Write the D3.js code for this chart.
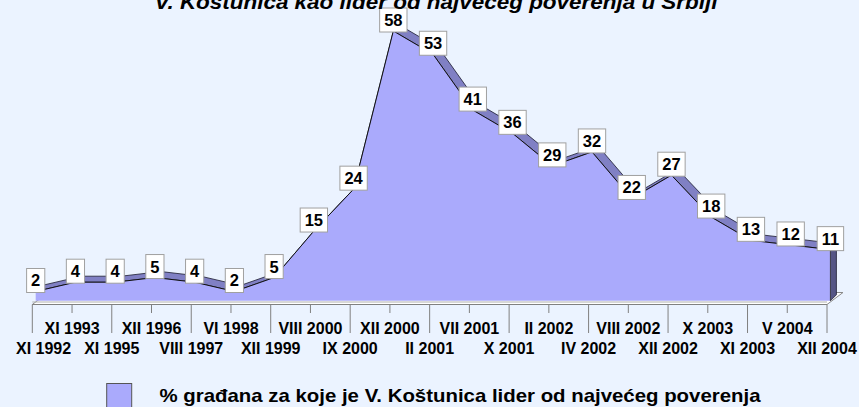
<!DOCTYPE html>
<html>
<head>
<meta charset="utf-8">
<script src="https://cdn.jsdelivr.net/npm/d3@7"></script>
<style>
  html, body { margin: 0; padding: 0; background: #ebf3ff; }
  svg { display: block; font-family: Arial, "Liberation Sans", sans-serif; }
</style>
</head>
<body>
<svg id="chart"></svg>
<script>
// Data
const categories = ["XI 1992", "XI 1993", "XI 1995", "XII 1996", "VIII 1997", "VI 1998", "XII 1999",
    "VIII 2000", "IX 2000", "XII 2000", "II 2001", "VII 2001", "X 2001", "II 2002", "IV 2002",
    "VIII 2002", "XII 2002", "X 2003", "XI 2003", "V 2004", "XII 2004"];
const values = [2, 4, 4, 5, 4, 2, 5, 15, 24, 58, 53, 41, 36, 29, 32, 22, 27, 18, 13, 12, 11];
const title = "V. Koštunica kao lider od najvećeg poverenja u Srbiji";
const seriesName = "% građana za koje je V. Koštunica lider od najvećeg poverenja";

const width = 859, height = 407;

const svg = d3.select("#chart")
    .attr("width", width)
    .attr("height", height);

svg.append("rect")
    .attr("width", width)
    .attr("height", height)
    .attr("fill", "#ebf3ff");

// scales (floor front edge)
const x = d3.scalePoint().domain(categories).range([32.3, 827]);
const y = d3.scaleLinear().domain([0, 60]).range([300.8, 21.7]);

// 3d offsets
const front = { dx: 3.4 };          // series front relative to axis ticks
const depth = { dx: 6, dy: -6 };    // series thickness
const floorDepth = { dx: 16, dy: -12 };
const floorY = 304.5;

// floor
const fx0 = x(categories[0]), fx1 = x(categories[categories.length - 1]);
svg.append("path")
    .attr("d", `M${fx0},${floorY}L${fx1},${floorY}L${fx1 + floorDepth.dx},${floorY + floorDepth.dy}L${fx0 + floorDepth.dx},${floorY + floorDepth.dy}Z`)
    .attr("fill", "#ffffff")
    .attr("stroke", "#8a8a8a")
    .attr("stroke-width", 1);
svg.append("line")
    .attr("x1", fx0).attr("x2", fx1)
    .attr("y1", floorY - 2.5).attr("y2", floorY - 2.5)
    .attr("stroke", "#b0b0b0")
    .attr("stroke-width", 1);

// points
const pts = categories.map((c, i) => ({
    c: c,
    v: values[i],
    x: x(c) + front.dx,
    y: y(values[i])
}));
const base = y(0);

// top strips
const strips = svg.append("g");
for (let i = 0; i < pts.length - 1; i++) {
    const a = pts[i], b = pts[i + 1];
    strips.append("path")
        .attr("d", `M${a.x},${a.y}L${b.x},${b.y}L${b.x + depth.dx},${b.y + depth.dy}L${a.x + depth.dx},${a.y + depth.dy}Z`)
        .attr("fill", "#8080c4")
        .attr("stroke", "#1a1a2e")
        .attr("stroke-width", 0.8)
        .attr("stroke-linejoin", "round");
}

// right side face
const last = pts[pts.length - 1];
svg.append("path")
    .attr("d", `M${last.x},${last.y}L${last.x + depth.dx},${last.y + depth.dy}L${last.x + depth.dx},${base + depth.dy}L${last.x},${base}Z`)
    .attr("fill", "#555585")
    .attr("stroke", "#1a1a2e")
    .attr("stroke-width", 0.8);

// front face
const area = d3.area()
    .x(d => d.x)
    .y0(base)
    .y1(d => d.y);
svg.append("path")
    .attr("d", area(pts))
    .attr("fill", "#aaaafc")
    .attr("stroke", "none");
svg.append("path")
    .attr("d", d3.line().x(d => d.x).y(d => d.y)(pts))
    .attr("fill", "none")
    .attr("stroke", "#111")
    .attr("stroke-width", 1);
svg.append("line")
    .attr("x1", last.x).attr("x2", last.x)
    .attr("y1", last.y).attr("y2", base)
    .attr("stroke", "#333").attr("stroke-width", 0.8);

// floor front axis line and ticks
svg.append("line")
    .attr("x1", fx0).attr("x2", fx1)
    .attr("y1", floorY).attr("y2", floorY)
    .attr("stroke", "#808080")
    .attr("stroke-width", 1);
svg.append("g")
    .selectAll("line")
    .data(categories)
    .join("line")
    .attr("x1", d => x(d)).attr("x2", d => x(d))
    .attr("y1", floorY)
    .attr("y2", (d, i) => i % 2 === 0 ? 333 : 313)
    .attr("stroke", "#808080")
    .attr("stroke-width", 1);

// category labels (staggered)
const catLabels = svg.append("g")
    .selectAll("text")
    .data(categories)
    .join("text")
    .attr("x", d => x(d))
    .attr("y", (d, i) => i % 2 === 0 ? 354.3 : 334.3)
    .attr("text-anchor", "middle")
    .attr("font-weight", "bold")
    .attr("font-size", "16px")
    .attr("fill", "#000")
    .text(d => d);
catLabels.each(function (d) {
    const w = this.getComputedTextLength();
    const cx = x(d);
    if (cx - w / 2 < 16) d3.select(this).attr("x", 16 + w / 2);
});

// data labels
const lbl = svg.append("g")
    .selectAll("g")
    .data(pts)
    .join("g")
    .attr("transform", d => `translate(${d.x},${d.y + 1})`);
lbl.append("rect")
    .attr("fill", "#fff")
    .attr("stroke", "#a0a0a0")
    .attr("stroke-width", 1);
lbl.append("text")
    .attr("text-anchor", "middle")
    .attr("y", -6)
    .attr("font-weight", "bold")
    .attr("font-size", "16.5px")
    .attr("fill", "#000")
    .text(d => d.v);
lbl.each(function () {
    const t = d3.select(this).select("text").node();
    const w = t.getComputedTextLength() + 9;
    d3.select(this).select("rect")
        .attr("x", -w / 2).attr("y", -24)
        .attr("width", w).attr("height", 24);
});

// title (cut at the top edge, as in the source)
svg.append("text")
    .attr("x", 436)
    .attr("y", 9)
    .attr("text-anchor", "middle")
    .attr("font-weight", "bold")
    .attr("font-style", "italic")
    .attr("font-size", "21px")
    .attr("textLength", 563)
    .attr("lengthAdjust", "spacingAndGlyphs")
    .attr("fill", "#000")
    .text(title);

// legend
svg.append("rect")
    .attr("x", 106.7).attr("y", 383.5)
    .attr("width", 25).attr("height", 30)
    .attr("fill", "#aaaafc")
    .attr("stroke", "#555")
    .attr("stroke-width", 1);
svg.append("text")
    .attr("x", 159.5)
    .attr("y", 401.5)
    .attr("font-weight", "bold")
    .attr("font-size", "19px")
    .attr("textLength", 601)
    .attr("lengthAdjust", "spacingAndGlyphs")
    .attr("fill", "#000")
    .text(seriesName);
</script>
</body>
</html>
